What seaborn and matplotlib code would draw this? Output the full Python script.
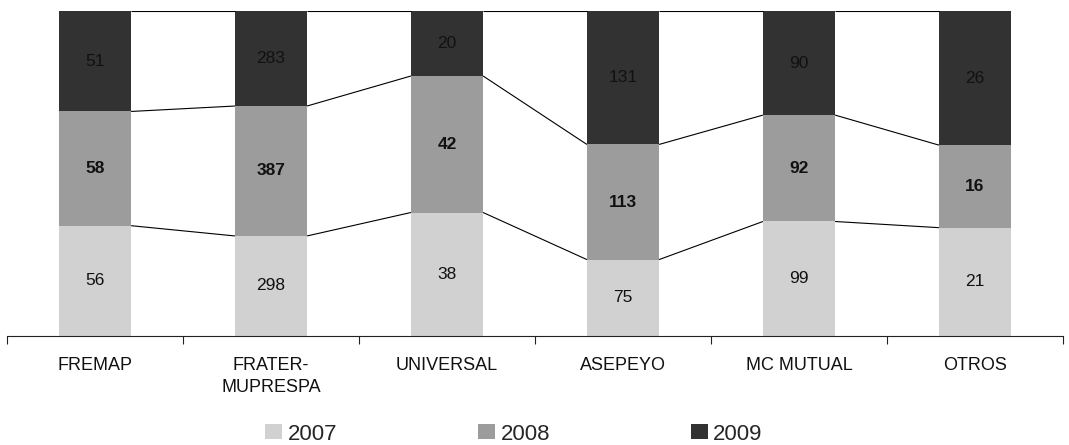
import matplotlib
matplotlib.use("Agg")
import matplotlib.pyplot as plt
import seaborn as sns
import numpy as np
import pandas as pd
from matplotlib.patches import Patch

categories = ["FREMAP", "FRATER-\nMUPRESPA", "UNIVERSAL", "ASEPEYO", "MC MUTUAL", "OTROS"]
years = ["2007", "2008", "2009"]
v2007 = [56, 298, 38, 75, 99, 21]
v2008 = [58, 387, 42, 113, 92, 16]
v2009 = [51, 283, 20, 131, 90, 26]
colors = ["#D0D1D0", "#9C9C9C", "#323232"]

sns.set_theme(style="white")
plt.rcParams["font.family"] = ["Liberation Sans", "DejaVu Sans"]

vals = np.array([v2007, v2008, v2009], dtype=float)
totals = vals.sum(axis=0)
frac = vals / totals
cum = np.vstack([np.zeros(len(categories)), np.cumsum(frac, axis=0)])

fig = plt.figure(figsize=(10.69, 4.45), dpi=100)
ax = fig.add_axes([7 / 1069, 1 - 336 / 445, 1056 / 1069, 325 / 445])

bw = 0.41
for k, yr in enumerate(years):
    df = pd.DataFrame({"cat": categories, "frac": frac[k]})
    sns.barplot(data=df, x="cat", y="frac", order=categories, color=colors[k],
                saturation=1, width=bw, bottom=cum[k], ax=ax, linewidth=0, errorbar=None)
    for i in range(len(categories)):
        ax.text(i, cum[k][i] + frac[k][i] / 2, f"{int(vals[k][i])}", ha="center", va="center",
                fontsize=12.5, color="#111111", fontweight="bold" if yr == "2008" else "normal")

# series lines between bars
for lvl in (1, 2, 3):
    for i in range(len(categories) - 1):
        ax.plot([i + bw / 2, i + 1 - bw / 2], [cum[lvl][i], cum[lvl][i + 1]],
                color="black", lw=0.8, solid_capstyle="butt")

ax.set_xlim(-0.5, len(categories) - 0.5)
ax.set_ylim(0, 1)
ax.set_xlabel("")
ax.set_ylabel("")
ax.set_yticks([])
for s in ("left", "right", "top"):
    ax.spines[s].set_visible(False)
ax.spines["bottom"].set_color("#222222")
ax.spines["bottom"].set_linewidth(0.8)
ax.set_xticks(np.arange(-0.5, len(categories) + 0.5, 1), minor=True)
ax.tick_params(axis="x", which="minor", length=6, width=0.8, color="#222222", direction="out", bottom=True)
ax.tick_params(axis="x", which="major", length=0, pad=15, labelsize=13, labelcolor="#111111")
ax.set_xticks(range(len(categories)))
ax.set_xticklabels(categories, linespacing=1.4)

handles = [Patch(facecolor=c, edgecolor="none") for c in colors]
fig.legend(handles, years, loc="center", bbox_to_anchor=(514 / 1069, 1 - 434 / 445), ncol=3,
           frameon=False, fontsize=16, handlelength=0.77, handleheight=0.63, handletextpad=0.23,
           columnspacing=6.35, borderpad=0)

fig.savefig("out.png", dpi=100)
